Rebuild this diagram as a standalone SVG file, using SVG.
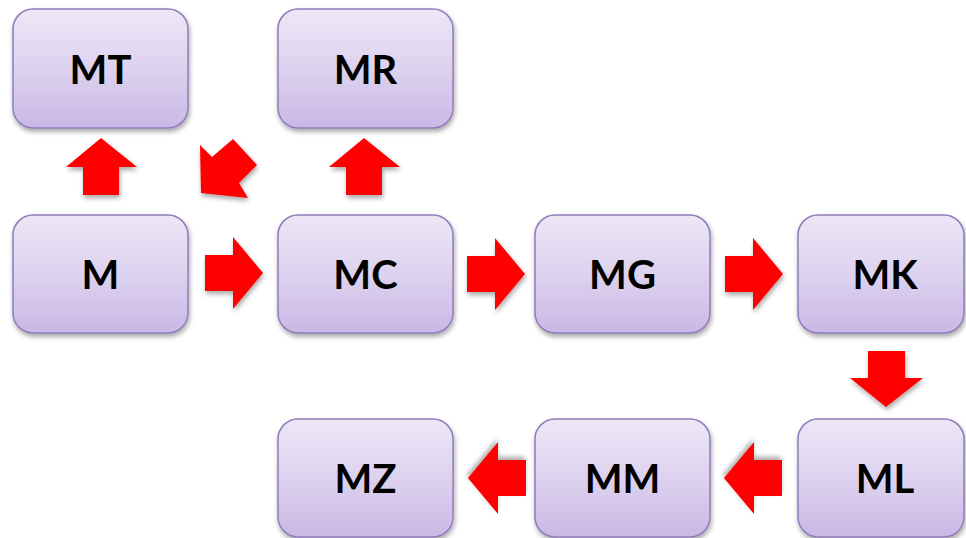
<svg xmlns="http://www.w3.org/2000/svg" width="966" height="538" viewBox="0 0 966 538">
  <defs>
    <linearGradient id="boxFill" x1="0" y1="0" x2="0" y2="1">
      <stop offset="0" stop-color="#ede7f7"/>
      <stop offset="0.5" stop-color="#ddd2ef"/>
      <stop offset="1" stop-color="#c9b8e5"/>
    </linearGradient>
    <filter id="shadow" x="-10%" y="-10%" width="125%" height="130%">
      <feGaussianBlur in="SourceAlpha" stdDeviation="2.5"/>
      <feOffset dx="1" dy="3" result="b"/>
      <feComponentTransfer><feFuncA type="linear" slope="0.35"/></feComponentTransfer>
      <feMerge><feMergeNode/><feMergeNode in="SourceGraphic"/></feMerge>
    </filter>
    <!-- block arrow pointing right, tip at origin -->
    <polygon id="arrowRight" points="-58,-18 -30,-18 -30,-36 0,0 -30,36 -30,18 -58,18"/>
  </defs>
  <style>
    .box { fill: url(#boxFill); stroke: #917cba; stroke-width: 1.5; filter: url(#shadow); }
    .label { font-family: Lato, "Open Sans", "Liberation Sans", sans-serif; font-weight: 700; font-size: 40px; fill: #000; text-anchor: middle; dominant-baseline: central; }
    .arrow { fill: #ff0000; filter: url(#shadow); }
  </style>

  <!-- connectors -->
  <g id="connectors">
    <!-- M up to MT -->
    <polygon class="arrow" points="83,195 83,167 66,167 101,138 137,167 119,167 119,195"/>
    <!-- MC diagonally to MT -->
    <polygon class="arrow" points="200,145 212,157 233,139 257,165 239,183 248,198 201,193"/>
    <!-- MC up to MR -->
    <polygon class="arrow" points="346,195 346,167 329,167 364,138 400,167 382,167 382,195"/>
    <!-- M to MC -->
    <use href="#arrowRight" class="arrow" transform="translate(263,273)"/>
    <!-- MC to MG -->
    <use href="#arrowRight" class="arrow" transform="translate(525,274)"/>
    <!-- MG to MK -->
    <use href="#arrowRight" class="arrow" transform="translate(783,274)"/>
    <!-- MK down to ML -->
    <polygon class="arrow" points="868,351 905,351 905,378 923,378 886,407 850,378 868,378"/>
    <!-- ML to MM -->
    <use href="#arrowRight" class="arrow" transform="translate(724,478) rotate(180)"/>
    <!-- MM to MZ -->
    <use href="#arrowRight" class="arrow" transform="translate(468,478) rotate(180)"/>
  </g>

  <!-- nodes -->
  <g id="MT"><rect class="box" x="13" y="9" width="175" height="119" rx="20"/><text class="label" x="100.5" y="69">MT</text></g>
  <g id="MR"><rect class="box" x="278" y="9" width="175" height="119" rx="20"/><text class="label" x="365.5" y="69">MR</text></g>
  <g id="M"><rect class="box" x="13" y="215" width="175" height="118" rx="20"/><text class="label" x="100.5" y="274">M</text></g>
  <g id="MC"><rect class="box" x="278" y="215" width="175" height="118" rx="20"/><text class="label" x="365.5" y="274">MC</text></g>
  <g id="MG"><rect class="box" x="535" y="215" width="175" height="118" rx="20"/><text class="label" x="622.5" y="274">MG</text></g>
  <g id="MK"><rect class="box" x="798" y="215" width="166" height="118" rx="20"/><text class="label" x="885" y="274">MK</text></g>
  <g id="MZ"><rect class="box" x="278" y="419" width="175" height="118" rx="20"/><text class="label" x="365.5" y="478">MZ</text></g>
  <g id="MM"><rect class="box" x="535" y="419" width="175" height="118" rx="20"/><text class="label" x="622.5" y="478">MM</text></g>
  <g id="ML"><rect class="box" x="798" y="419" width="166" height="118" rx="20"/><text class="label" x="885" y="478">ML</text></g>
</svg>
